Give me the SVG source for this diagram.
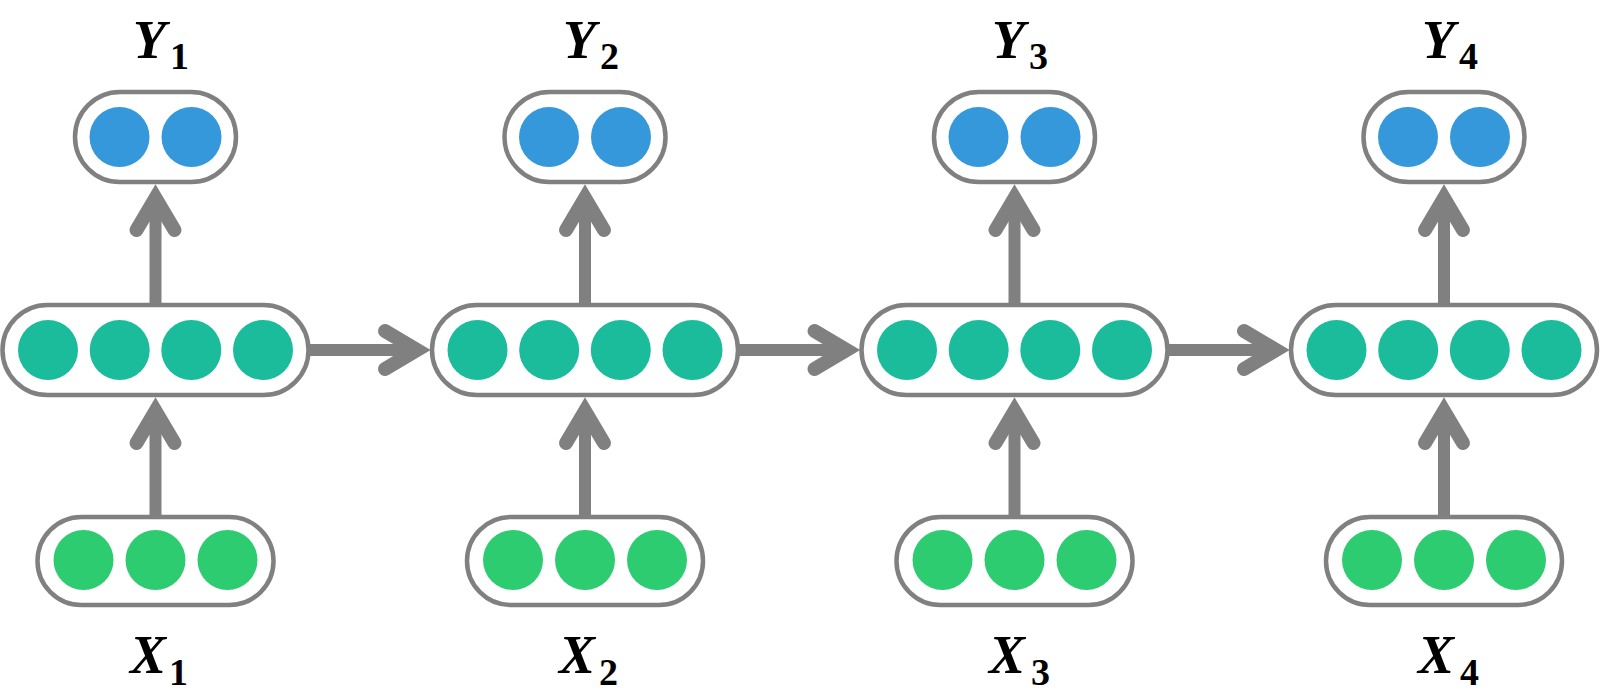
<svg xmlns="http://www.w3.org/2000/svg" width="1600" height="693" viewBox="0 0 1600 693">
<style>
.box{fill:#fff;stroke:#808080;stroke-width:4.5}
.o{fill:#3498db}
.h{fill:#1abc9c}
.i{fill:#2ecc71}
.ln{fill:none;stroke:#808080;stroke-width:12}
.hd{fill:none;stroke:#808080;stroke-width:14;stroke-linecap:round;stroke-linejoin:miter}
.lab{font-family:"Liberation Serif","Times New Roman",serif;font-weight:bold;font-style:italic;font-size:54px;fill:#000}
.sub{font-style:normal;font-size:38px}
</style>
<rect width="1600" height="693" fill="#fff"/>
<g id="connectors">
  <line class="ln" x1="155.5" y1="515" x2="155.5" y2="412"/>
  <polyline class="hd" points="136.5,443 155.5,411 174.5,443"/>
  <line class="ln" x1="155.5" y1="303" x2="155.5" y2="199"/>
  <polyline class="hd" points="136.5,230 155.5,198 174.5,230"/>
  <line class="ln" x1="585" y1="515" x2="585" y2="412"/>
  <polyline class="hd" points="566,443 585,411 604,443"/>
  <line class="ln" x1="585" y1="303" x2="585" y2="199"/>
  <polyline class="hd" points="566,230 585,198 604,230"/>
  <line class="ln" x1="1014.5" y1="515" x2="1014.5" y2="412"/>
  <polyline class="hd" points="995.5,443 1014.5,411 1033.5,443"/>
  <line class="ln" x1="1014.5" y1="303" x2="1014.5" y2="199"/>
  <polyline class="hd" points="995.5,230 1014.5,198 1033.5,230"/>
  <line class="ln" x1="1444" y1="515" x2="1444" y2="412"/>
  <polyline class="hd" points="1425,443 1444,411 1463,443"/>
  <line class="ln" x1="1444" y1="303" x2="1444" y2="199"/>
  <polyline class="hd" points="1425,230 1444,198 1463,230"/>
  <line class="ln" x1="310" y1="350" x2="418" y2="350"/>
  <polyline class="hd" points="385,331 417,350 385,369"/>
  <line class="ln" x1="739.5" y1="350" x2="847.5" y2="350"/>
  <polyline class="hd" points="814.5,331 846.5,350 814.5,369"/>
  <line class="ln" x1="1169" y1="350" x2="1277" y2="350"/>
  <polyline class="hd" points="1244,331 1276,350 1244,369"/>
</g>
<g id="Y1"><rect class="box" x="75" y="92" width="161" height="90" rx="45"/><circle class="o" cx="119.5" cy="137" r="30"/><circle class="o" cx="191.5" cy="137" r="30"/></g>
<g id="Y2"><rect class="box" x="504.5" y="92" width="161" height="90" rx="45"/><circle class="o" cx="549" cy="137" r="30"/><circle class="o" cx="621" cy="137" r="30"/></g>
<g id="Y3"><rect class="box" x="934" y="92" width="161" height="90" rx="45"/><circle class="o" cx="978.5" cy="137" r="30"/><circle class="o" cx="1050.5" cy="137" r="30"/></g>
<g id="Y4"><rect class="box" x="1363.5" y="92" width="161" height="90" rx="45"/><circle class="o" cx="1408" cy="137" r="30"/><circle class="o" cx="1480" cy="137" r="30"/></g>

<g id="H1"><rect class="box" x="2.5" y="305" width="306" height="90" rx="45"/><circle class="h" cx="48" cy="350" r="30"/><circle class="h" cx="119.7" cy="350" r="30"/><circle class="h" cx="191.3" cy="350" r="30"/><circle class="h" cx="263" cy="350" r="30"/></g>
<g id="H2"><rect class="box" x="432" y="305" width="306" height="90" rx="45"/><circle class="h" cx="477.5" cy="350" r="30"/><circle class="h" cx="549.2" cy="350" r="30"/><circle class="h" cx="620.8" cy="350" r="30"/><circle class="h" cx="692.5" cy="350" r="30"/></g>
<g id="H3"><rect class="box" x="861.5" y="305" width="306" height="90" rx="45"/><circle class="h" cx="907" cy="350" r="30"/><circle class="h" cx="978.7" cy="350" r="30"/><circle class="h" cx="1050.3" cy="350" r="30"/><circle class="h" cx="1122" cy="350" r="30"/></g>
<g id="H4"><rect class="box" x="1291" y="305" width="306" height="90" rx="45"/><circle class="h" cx="1336.5" cy="350" r="30"/><circle class="h" cx="1408.2" cy="350" r="30"/><circle class="h" cx="1479.8" cy="350" r="30"/><circle class="h" cx="1551.5" cy="350" r="30"/></g>

<g id="X1"><rect class="box" x="37.5" y="517" width="236" height="88" rx="44"/><circle class="i" cx="83.5" cy="560" r="30"/><circle class="i" cx="155.5" cy="560" r="30"/><circle class="i" cx="227.5" cy="560" r="30"/></g>
<g id="X2"><rect class="box" x="467" y="517" width="236" height="88" rx="44"/><circle class="i" cx="513" cy="560" r="30"/><circle class="i" cx="585" cy="560" r="30"/><circle class="i" cx="657" cy="560" r="30"/></g>
<g id="X3"><rect class="box" x="896.5" y="517" width="236" height="88" rx="44"/><circle class="i" cx="942.5" cy="560" r="30"/><circle class="i" cx="1014.5" cy="560" r="30"/><circle class="i" cx="1086.5" cy="560" r="30"/></g>
<g id="X4"><rect class="box" x="1326" y="517" width="236" height="88" rx="44"/><circle class="i" cx="1372" cy="560" r="30"/><circle class="i" cx="1444" cy="560" r="30"/><circle class="i" cx="1516" cy="560" r="30"/></g>

<g id="labels">
  <text class="lab" x="133" y="58">Y<tspan class="sub" x="170" y="69">1</tspan></text>
  <text class="lab" x="563" y="58">Y<tspan class="sub" x="600" y="69">2</tspan></text>
  <text class="lab" x="992" y="58">Y<tspan class="sub" x="1029" y="69">3</tspan></text>
  <text class="lab" x="1422" y="58">Y<tspan class="sub" x="1459" y="69">4</tspan></text>
  <text class="lab" x="130" y="673">X<tspan class="sub" x="169" y="685">1</tspan></text>
  <text class="lab" x="559" y="673">X<tspan class="sub" x="599" y="685">2</tspan></text>
  <text class="lab" x="989" y="673">X<tspan class="sub" x="1031" y="685">3</tspan></text>
  <text class="lab" x="1418" y="673">X<tspan class="sub" x="1460" y="685">4</tspan></text>
</g>
</svg>
